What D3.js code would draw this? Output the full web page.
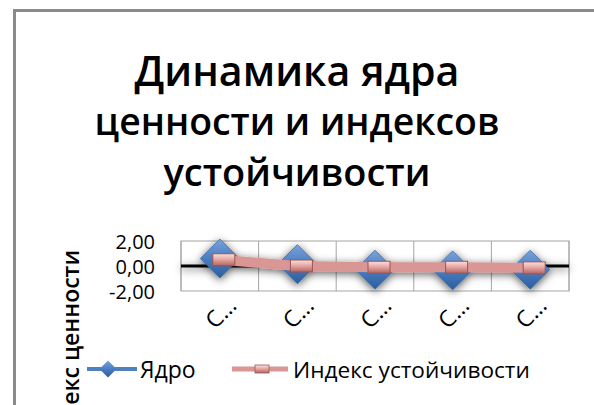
<!DOCTYPE html>
<html>
<head>
<meta charset="utf-8">
<script src="https://cdn.jsdelivr.net/npm/d3@7"></script>
<style>
  body { margin: 0; background: #fff; }
  svg text { font-family: "Open Sans", "Noto Sans", sans-serif; fill: #000; }
</style>
</head>
<body>
<div id="chart"></div>
<script>
// data
var titleLines = ["Динамика ядра", "ценности и индексов", "устойчивости"];
var yTitle = "Индекс ценности";
var categories = ["С…", "С…", "С…", "С…", "С…"];
var seriesNames = ["Ядро", "Индекс устойчивости"];
var core = [0.6, 0.15, -0.3, -0.35, -0.3];
var stability = [0.5, 0.0, -0.1, -0.1, -0.15];
var yTicks = [-2, 0, 2];

var width = 594, height = 405;
var plot = {left: 181, right: 569, top: 241, bottom: 291};

var col_blue = "#4f81bd", col_pink = "#d99694";

var loc = d3.formatLocale({decimal: ",", thousands: " ", grouping: [3], currency: ["", ""], minus: "-"});
var fmt = loc.format(".2f");

var svg = d3.select("#chart").append("svg")
  .attr("width", width).attr("height", height);

var defs = svg.append("defs");
var gBlue = defs.append("linearGradient").attr("id", "gBlue")
  .attr("x1", 0).attr("y1", 0).attr("x2", 0).attr("y2", 1);
gBlue.append("stop").attr("offset", "0%").attr("stop-color", "#7aa3dc");
gBlue.append("stop").attr("offset", "50%").attr("stop-color", "#4a7dc0");
gBlue.append("stop").attr("offset", "100%").attr("stop-color", "#2c5d9c");
var gPink = defs.append("linearGradient").attr("id", "gPink")
  .attr("x1", 0).attr("y1", 0).attr("x2", 0).attr("y2", 1);
gPink.append("stop").attr("offset", "0%").attr("stop-color", "#fbe0de");
gPink.append("stop").attr("offset", "45%").attr("stop-color", "#e7aaa6");
gPink.append("stop").attr("offset", "100%").attr("stop-color", "#b5625e");
var shadow = defs.append("filter").attr("id", "shadow")
  .attr("x", "-10%").attr("y", "-60%").attr("width", "120%").attr("height", "220%");
shadow.append("feDropShadow").attr("dx", 0).attr("dy", 2).attr("stdDeviation", 4)
  .attr("flood-color", "#000").attr("flood-opacity", 0.65);

// outer frame
svg.append("rect")
  .attr("x", 14.5).attr("y", 10.5).attr("width", 640).attr("height", 440)
  .attr("fill", "#fff").attr("stroke", "#8a8a8a").attr("stroke-width", 3);

// title, each line fitted to its width in the picture
var titleY = [86, 135, 186];
var titleW = [325, 405, 267];
titleLines.forEach(function(t, i) {
  var tx = svg.append("text")
    .attr("x", 297).attr("y", titleY[i])
    .attr("text-anchor", "middle")
    .attr("font-weight", 600)
    .attr("font-size", 38)
    .text(t);
  var w = tx.node().getComputedTextLength();
  tx.attr("font-size", 38 * titleW[i] / w);
});

var x = d3.scaleBand().domain(d3.range(categories.length)).range([plot.left, plot.right]);
var y = d3.scaleLinear().domain([-2, 2]).range([plot.bottom, plot.top]);

// grid + plot border
svg.append("g").selectAll("line")
  .data(d3.range(categories.length + 1)).enter()
  .append("line")
  .attr("x1", function(d) { return plot.left + d * x.bandwidth(); })
  .attr("x2", function(d) { return plot.left + d * x.bandwidth(); })
  .attr("y1", plot.top).attr("y2", plot.bottom)
  .attr("stroke", "#a6a6a6").attr("stroke-width", 1);
svg.append("rect")
  .attr("x", plot.left).attr("y", plot.top)
  .attr("width", plot.right - plot.left).attr("height", plot.bottom - plot.top)
  .attr("fill", "none").attr("stroke", "#a6a6a6");

// y axis labels
var yAxis = d3.axisLeft(y).tickValues(yTicks).tickSize(0).tickPadding(26).tickFormat(fmt);
var gy = svg.append("g").attr("transform", "translate(" + plot.left + ",0)").call(yAxis);
gy.select(".domain").remove();
gy.selectAll("text").attr("font-size", 20).attr("font-family", "Open Sans").attr("dy", "0.35em");

// x axis labels (low position, rotated)
var xAxis = d3.axisBottom(x).tickSize(0).tickFormat(function(d) { return categories[d]; });
var gx = svg.append("g").attr("transform", "translate(0," + plot.bottom + ")").call(xAxis);
gx.select(".domain").remove();
gx.selectAll("text")
  .attr("font-size", 23).attr("font-family", "Open Sans")
  .attr("text-anchor", "end")
  .attr("y", 0).attr("dy", 0)
  .attr("transform", "translate(18,16) rotate(-45)");

// series
var series = svg.append("g").attr("filter", "url(#shadow)");
series.append("line")
  .attr("x1", plot.left).attr("x2", plot.right)
  .attr("y1", y(0)).attr("y2", y(0))
  .attr("stroke", "#000").attr("stroke-width", 3);

var line = d3.line()
  .x(function(d, i) { return x(i) + x.bandwidth() / 2; })
  .y(function(d) { return y(d); });

series.append("path").attr("d", line(core))
  .attr("fill", "none").attr("stroke", col_blue).attr("stroke-width", 4);
series.selectAll(".dia").data(core).enter()
  .append("path").attr("class", "dia")
  .attr("transform", function(d, i) { return "translate(" + (x(i) + x.bandwidth() / 2) + "," + y(d) + ")"; })
  .attr("d", "M0,-19.5L19.5,0L0,19.5L-19.5,0Z")
  .attr("fill", "url(#gBlue)").attr("stroke", "#3a6aa8").attr("stroke-width", 0.8);

series.append("path").attr("d", line(stability))
  .attr("fill", "none").attr("stroke", col_pink).attr("stroke-width", 10);
series.selectAll(".mk").data(stability).enter()
  .append("rect").attr("class", "mk")
  .attr("x", function(d, i) { return x(i) + x.bandwidth() / 2 - 7; })
  .attr("y", function(d) { return y(d) - 6; })
  .attr("width", 22).attr("height", 12)
  .attr("fill", "url(#gPink)").attr("stroke", "#9c5552").attr("stroke-width", 1);

// y axis title (runs off the bottom edge like in the picture)
svg.append("text")
  .attr("transform", "translate(79,250) rotate(-90)")
  .attr("text-anchor", "end")
  .attr("font-weight", 600)
  .attr("font-size", 23)
  .text(yTitle);

// legend
var lg = svg.append("g");
lg.append("line").attr("x1", 87).attr("x2", 137).attr("y1", 369).attr("y2", 369)
  .attr("stroke", col_blue).attr("stroke-width", 4);
lg.append("path").attr("transform", "translate(108,369)")
  .attr("d", "M0,-8.5L8.5,0L0,8.5L-8.5,0Z").attr("fill", "url(#gBlue)");
lg.append("text").attr("x", 140).attr("y", 378).attr("font-size", 23).text(seriesNames[0]);
lg.append("line").attr("x1", 232).attr("x2", 288).attr("y1", 369).attr("y2", 369)
  .attr("stroke", col_pink).attr("stroke-width", 5);
lg.append("rect").attr("x", 255).attr("y", 365).attr("width", 14).attr("height", 8)
  .attr("fill", "url(#gPink)").attr("stroke", "#9c5552").attr("stroke-width", 0.8);
var t2 = lg.append("text").attr("x", 293).attr("y", 378).attr("font-size", 23).text(seriesNames[1]);
var w2 = t2.node().getComputedTextLength();
t2.attr("font-size", 23 * 237 / w2);
</script>
</body>
</html>
